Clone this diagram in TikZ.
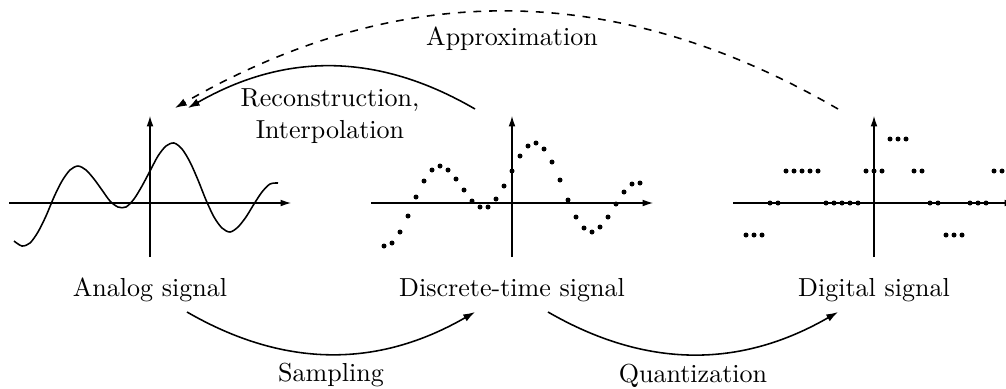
\documentclass[tikz,border=0pt]{standalone}
\usetikzlibrary{arrows.meta,calc}
\begin{document}
\begin{tikzpicture}[x=0.384pt,y=0.384pt,
  axis/.style={-{Latex[length=4pt,width=2.6pt]}},
  flow/.style={semithick,-{Latex[length=4.5pt,width=3pt]}},
  dot/.style={fill=black}]
\useasboundingbox (0,0) rectangle (1006,388);
% samples, one every 8 units (index 17 = origin)
\def\sig{{-38,-43,-40,-29,-13,6,22,33,37,33,24,13,2,-4,-4,4,17,32,47,57,60,54,41,23,3,-14,-25,-29,-24,-14,-1,11,19,20}}
% axes
\foreach \X in {150,512,874}{
  \draw[axis] (\X-141,185) -- (\X+141,185);
  \draw[axis] (\X,131) -- (\X,272);
}
% analog
\draw[semithick] plot[smooth,variable=\k,samples at={0,...,33}] ({150+(\k-17)*8},{185+\sig[\k]});
% discrete-time
\foreach \k in {1,...,33}
  \fill[dot] ({512+(\k-17)*8},{185+\sig[\k]}) circle[radius=2.5];
% digital
\foreach \k in {1,...,33}{
  \pgfmathsetmacro\q{round(\sig[\k]/32)*32}
  \fill[dot] ({874+(\k-17)*8},{185+\q}) circle[radius=2.5];
}
% labels
\node[anchor=base] (analog) at (150,92) {Analog signal};
\node[anchor=base] (discrete) at (512,92) {Discrete-time signal};
\node[anchor=base] (digital) at (874,92) {Digital signal};
\node[anchor=base] (approx) at (512,343) {Approximation};
\node[align=center] (recon) at (330,272) {Reconstruction,\\Interpolation};
% arc ends
\coordinate (analog-n) at (188,280);
\coordinate (analog-n2) at (175,280);
\coordinate (discrete-n) at (475,279);
\coordinate (digital-n) at (838,279);
\coordinate (analog-s) at (187,76);
\coordinate (discrete-sw) at (475,76);
\coordinate (discrete-se) at (548,76);
\coordinate (digital-s) at (838,76);
% arcs
\draw[flow] (analog-s) to[bend right=30] node[below] (samp) {Sampling} (discrete-sw);
\draw[flow] (discrete-se) to[bend right=30] node[below] (quant) {Quantization} (digital-s);
\draw[flow] (discrete-n) to[bend right=30] (analog-n);
\draw[flow,dashed] (digital-n) to[bend right=30] (analog-n2);
\end{tikzpicture}
\end{document}
